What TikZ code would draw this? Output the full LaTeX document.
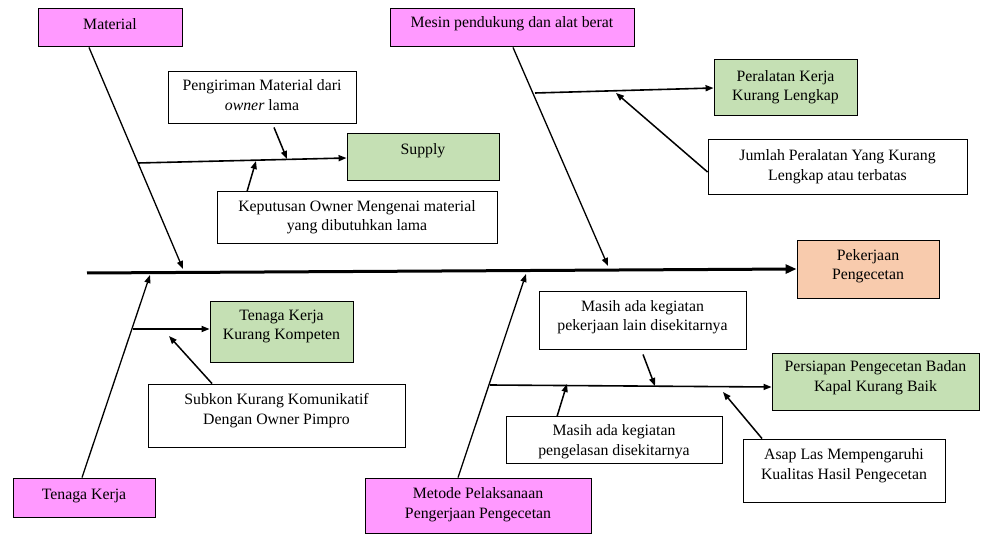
\documentclass[tikz,border=0pt]{standalone}
\usepackage{fontspec}
\setmainfont{Liberation Serif}
\usetikzlibrary{arrows.meta}
\definecolor{causepink}{HTML}{FF99FF}
\definecolor{effectgreen}{HTML}{C5E0B4}
\definecolor{headpeach}{HTML}{F8CBAD}
\tikzset{
  box/.style={draw=black, line width=0.9pt, inner sep=0pt},
  catbox/.style={box, fill=causepink},
  effbox/.style={box, fill=effectgreen},
  headbox/.style={box, fill=headpeach},
  notebox/.style={box, fill=white},
  txt/.style={font=\fontsize{15.8}{19.5}\selectfont, align=center, inner sep=0pt},
  spineline/.style={line width=3pt, -{Triangle[length=11pt,width=9pt]}},
  catline/.style={line width=1.3pt, -{Triangle[length=8pt,width=6pt]}},
  branch/.style={line width=1.6pt, -{Triangle[length=8pt,width=6pt]}},
  causearrow/.style={line width=1.5pt, -{Triangle[length=8pt,width=6pt]}}
}
\begin{document}
\begin{tikzpicture}[x=1pt, y=-1pt]
\useasboundingbox (0,0) rectangle (981,534);

% category boxes
\node[catbox, minimum width=144pt, minimum height=38pt,
      label={[txt, yshift=3pt]center:Material}] (mat) at (110,27) {};
\node[catbox, minimum width=244pt, minimum height=38pt,
      label={[txt, yshift=3pt]center:Mesin pendukung dan alat berat}] (mes) at (512,27) {};
\node[catbox, minimum width=142pt, minimum height=39pt,
      label={[txt, yshift=2pt]center:Tenaga Kerja}] (tk) at (84,497.5) {};
\node[catbox, minimum width=226pt, minimum height=55pt,
      label={[txt, yshift=1pt]center:Metode Pelaksanaan\\Pengerjaan Pengecetan}] (met) at (478,505.5) {};

% head of the fish
\node[headbox, minimum width=142pt, minimum height=58pt,
      label={[txt, yshift=3pt]center:Pekerjaan\\Pengecetan}] (pek) at (868,269) {};

% sub-effects
\node[effbox, minimum width=152pt, minimum height=47pt,
      label={[txt, yshift=6pt]center:Supply}] (sup) at (423,156.5) {};
\node[effbox, minimum width=143pt, minimum height=56pt,
      label={[txt]center:Peralatan Kerja\\Kurang Lengkap}] (per) at (785.5,87) {};
\node[effbox, minimum width=143pt, minimum height=61pt,
      label={[txt, yshift=5pt]center:Tenaga Kerja\\Kurang Kompeten}] (tkk) at (281.5,331.5) {};
\node[effbox, minimum width=207pt, minimum height=57pt,
      label={[txt, yshift=4pt]center:Persiapan Pengecetan Badan\\Kapal Kurang Baik}] (pers) at (875.5,381.5) {};

% causes
\node[notebox, minimum width=188pt, minimum height=52pt,
      label={[txt, yshift=2pt]center:Pengiriman Material dari\\\emph{owner} lama}] (peng) at (262,97) {};
\node[notebox, minimum width=280pt, minimum height=52pt,
      label={[txt]center:Keputusan Owner Mengenai material\\yang dibutuhkan lama}] (kep) at (357,217) {};
\node[notebox, minimum width=259pt, minimum height=55pt,
      label={[txt]center:Jumlah Peralatan Yang Kurang\\Lengkap atau terbatas}] (jum) at (837.5,166.5) {};
\node[notebox, minimum width=257pt, minimum height=63pt,
      label={[txt, yshift=5pt]center:Subkon Kurang Komunikatif\\Dengan Owner Pimpro}] (sub) at (276.5,415.5) {};
\node[notebox, minimum width=207pt, minimum height=58pt,
      label={[txt, yshift=3pt]center:Masih ada kegiatan\\pekerjaan lain disekitarnya}] (mpk) at (642.5,320) {};
\node[notebox, minimum width=216pt, minimum height=47pt,
      label={[txt, yshift=-2pt]center:Masih ada kegiatan\\pengelasan disekitarnya}] (mpg) at (614,439.5) {};
\node[notebox, minimum width=202pt, minimum height=63pt,
      label={[txt, yshift=5pt]center:Asap Las Mempengaruhi\\Kualitas Hasil Pengecetan}] (asap) at (844,470.5) {};

% spine
\coordinate (tail) at (87,273);
\draw[spineline] (tail) -- (pek.west);

% category bones
\coordinate (matend) at (183,269);
\coordinate (mesend) at (608,266);
\coordinate (tkend) at (150,275);
\coordinate (metend) at (526,274);
\draw[catline] ([xshift=-21pt, yshift=-1pt]mat.south) -- (matend);
\draw[catline] ([xshift=1pt, yshift=-1pt]mes.south) -- (mesend);
\draw[catline] ([xshift=-2pt]tk.north) -- (tkend);
\draw[catline] ([xshift=-20pt]met.north) -- (metend);

% branches to the sub-effects
\coordinate (supfrom) at (138,163);
\coordinate (perfrom) at (535,93);
\coordinate (tkkfrom) at (133,329);
\coordinate (persfrom) at (490,385);
\draw[branch] (supfrom) -- ([yshift=-1.5pt]sup.west);
\draw[branch] (perfrom) -- ([yshift=-1pt]per.west);
\draw[branch] (tkkfrom) -- (tkkfrom -| tkk.west);
\draw[branch] (persfrom) -- ([yshift=-5.5pt]pers.west);

% cause arrows onto the branches
\coordinate (pengto) at (287,159);
\coordinate (kepto) at (256,161);
\coordinate (jumto) at (616,93);
\coordinate (subto) at (169,336);
\coordinate (mpkto) at (655,386);
\coordinate (mpgto) at (567,384);
\coordinate (asapto) at (723,392);
\draw[causearrow] ([shift={(12,4)}]peng.south) -- (pengto);
\draw[causearrow] ([shift={(-110,1)}]kep.north) -- (kepto);
\draw[causearrow] ([shift={(0,5.5)}]jum.west) -- (jumto);
\draw[causearrow] ([shift={(-64.5,0)}]sub.north) -- (subto);
\draw[causearrow] ([shift={(0.5,5)}]mpk.south) -- (mpkto);
\draw[causearrow] ([shift={(-57,1)}]mpg.north) -- (mpgto);
\draw[causearrow] ([shift={(-82,0)}]asap.north) -- (asapto);
\end{tikzpicture}
\end{document}
